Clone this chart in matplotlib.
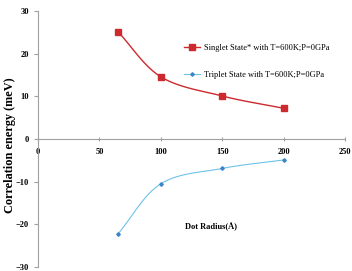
import numpy as np
import matplotlib
matplotlib.use("Agg")
import matplotlib.pyplot as plt

radius = [65, 100, 150, 200]
singlet = [25.2, 14.6, 10.1, 7.2]
triplet = [-22.3, -10.5, -6.9, -4.9]
singlet_label = "Singlet State* with T=600K;P=0GPa"
triplet_label = "Triplet State with T=600K;P=0GPa"
xticks = [0, 50, 100, 150, 200, 250]
yticks = [-30, -20, -10, 0, 10, 20, 30]

plt.rcParams['font.family'] = ['Liberation Serif', 'DejaVu Serif']
plt.rcParams['font.weight'] = 'bold'


def smooth(x, y, n=30):
    # Catmull-Rom curve through the points (Excel-like smoothed line)
    x = np.asarray(x, float); y = np.asarray(y, float)
    P = np.column_stack([x, y])
    P = np.vstack([2 * P[0] - P[1], P, 2 * P[-1] - P[-2]])
    out = []
    t = np.linspace(0, 1, n)
    for i in range(1, len(P) - 2):
        p0, p1, p2, p3 = P[i - 1], P[i], P[i + 1], P[i + 2]
        seg = 0.5 * ((2 * p1)[None, :] + np.outer(t, -p0 + p2)
                     + np.outer(t ** 2, 2 * p0 - 5 * p1 + 4 * p2 - p3)
                     + np.outer(t ** 3, -p0 + 3 * p1 - 3 * p2 + p3))
        out.append(seg)
    S = np.vstack(out)
    return S[:, 0], S[:, 1]


fig = plt.figure(figsize=(3.52, 2.71), dpi=100)
ax = fig.add_axes([0.108, 0.015, 0.872, 0.944])

red = '#CC2A2E'
blue = '#6EC3E8'
sx, sy = smooth(radius, singlet)
tx, ty = smooth(radius, triplet)
ax.plot(sx, sy, color=red, lw=1.0)
ax.plot(radius, singlet, ls='none', marker='s', ms=4.5, color=red)
ax.plot(tx, ty, color=blue, lw=0.8)
ax.plot(radius, triplet, ls='none', marker='D', ms=1.8, color='#3A86C8')

# legend proxies
ax.plot([], [], color=red, lw=1.0, marker='s', ms=4.5, label=singlet_label)
ax.plot([], [], color=blue, lw=0.8, marker='D', ms=1.8, mfc='#3A86C8', mec='#3A86C8', label=triplet_label)
h, l = ax.get_legend_handles_labels()
ax.legend(h[-2:], l[-2:], loc='upper left', bbox_to_anchor=(0.45, 0.90), frameon=False,
          labelspacing=2.3, handlelength=2.0, handletextpad=0.4,
          prop={'size': 6, 'weight': 'normal'})

ax.set_xlim(0, 250)
ax.set_ylim(-30, 30)
ax.set_xticks(xticks)
ax.set_yticks(yticks)
ax.spines['top'].set_visible(False)
ax.spines['right'].set_visible(False)
ax.spines['bottom'].set_position(('data', 0))
for s in ['left', 'bottom']:
    ax.spines[s].set_color('#A0A0A0')
    ax.spines[s].set_linewidth(0.8)
ax.tick_params(axis='both', labelsize=6, color='#A0A0A0', length=3, width=0.8)
ax.tick_params(axis='x', direction='inout', pad=5)
for lab in ax.get_xticklabels() + ax.get_yticklabels():
    lab.set_fontweight('bold')

fig.text(10 / 352, 1 - 145 / 271, 'Correlation energy (meV)', fontsize=8.8, fontweight='bold',
         rotation=90, ha='center', va='center')
ax.text(120, -20.5, 'Dot Radius(Å)', fontsize=6, fontweight='bold', ha='left', va='center')

fig.savefig('out.png', dpi=100)
